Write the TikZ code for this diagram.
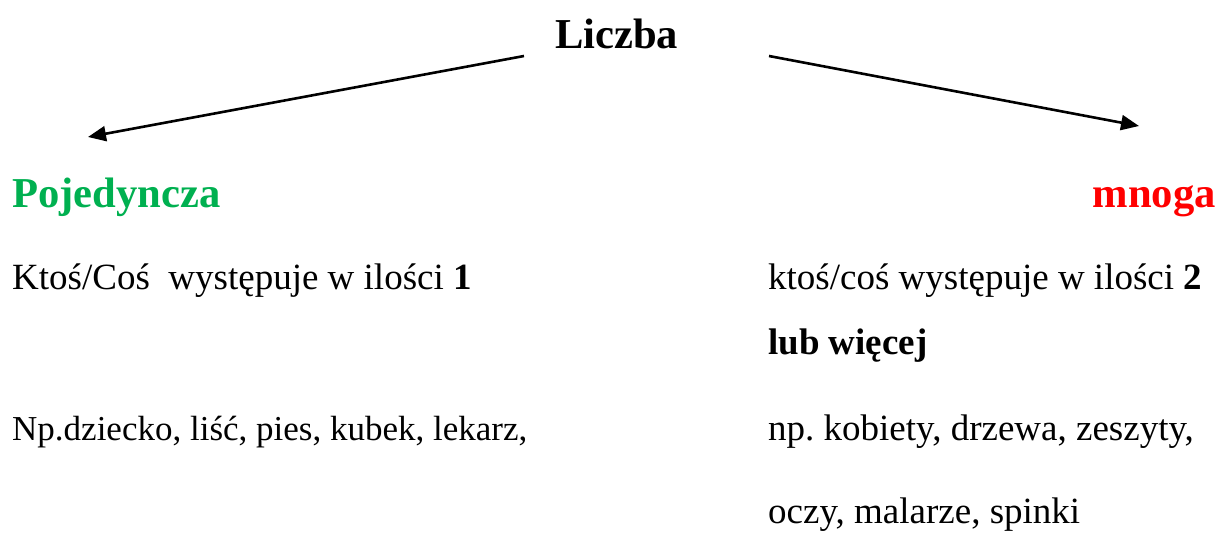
\documentclass[tikz,border=0pt]{standalone}
\usepackage{fontspec}
\setmainfont{Liberation Serif}
\usetikzlibrary{arrows.meta}
\definecolor{pgreen}{RGB}{0,176,80}
\definecolor{mred}{RGB}{255,0,0}
\frenchspacing
\tikzset{
  txt/.style={anchor=base west, inner sep=0pt, font=\fontsize{37}{42}\selectfont},
  head/.style={anchor=base west, inner sep=0pt, font=\fontsize{42.6}{48}\selectfont\bfseries},
  arr/.style={line width=2.6pt, -{Triangle[length=18pt,width=15pt]}}
}
\begin{document}
\begin{tikzpicture}[x=1pt,y=-1pt]
\useasboundingbox (0,0) rectangle (1225,539);
\node[head] (liczba) at (555,48) {Liczba};
\node[head, text=pgreen] (poj) at (12,207) {Pojedyncza};
\node[head, text=mred, anchor=base east] (mnoga) at (1216,207) {mnoga};
\node[txt] (l1) at (12,289) {Ktoś/Coś\ \ występuje w ilości \textbf{1}};
\node[txt, font=\fontsize{35}{40}\selectfont] (l2) at (12,440) {Np.dziecko, liść, pies, kubek, lekarz,};
\node[txt] (r1) at (768,289) {ktoś/coś występuje w ilości \textbf{2}};
\node[txt] (r2) at (768,354) {\textbf{lub więcej}};
\node[txt] (r3) at (768,440) {np. kobiety, drzewa, zeszyty,};
\node[txt] (r4) at (768,523) {oczy, malarze, spinki};
\coordinate (aL0) at (524,56);
\coordinate (aL1) at (88,137);
\coordinate (aR0) at (769,56);
\coordinate (aR1) at (1139,126);
\draw[arr] (aL0) -- (aL1);
\draw[arr] (aR0) -- (aR1);
\end{tikzpicture}
\end{document}
